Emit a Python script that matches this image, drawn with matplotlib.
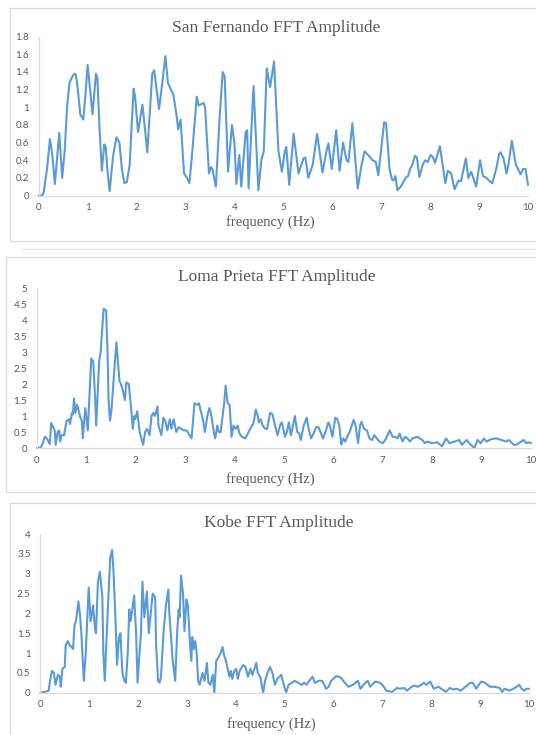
import matplotlib
matplotlib.use("Agg")
import matplotlib.pyplot as plt
from matplotlib.patches import Rectangle
from matplotlib.lines import Line2D

# ---------------- data ----------------
titles = ["San Fernando FFT Amplitude", "Loma Prieta FFT Amplitude", "Kobe FFT Amplitude"]
xlabel_text = "frequency (Hz)"
x_ticks = [0, 1, 2, 3, 4, 5, 6, 7, 8, 9, 10]

sf_ticks = [0, 0.2, 0.4, 0.6, 0.8, 1.0, 1.2, 1.4, 1.6, 1.8]
lp_ticks = [0, 0.5, 1, 1.5, 2, 2.5, 3, 3.5, 4, 4.5, 5]
kb_ticks = [0, 0.5, 1, 1.5, 2, 2.5, 3, 3.5, 4]

sf_points = [
    (0, 0), (0.07, 0), (0.1, 0.03), (0.17, 0.3), (0.23, 0.64), (0.28, 0.45), (0.33, 0.13),
    (0.38, 0.45), (0.42, 0.71), (0.45, 0.45), (0.48, 0.2), (0.53, 0.5), (0.58, 1.0),
    (0.63, 1.28), (0.70, 1.36), (0.73, 1.38), (0.76, 1.37), (0.80, 1.2), (0.85, 0.92),
    (0.91, 0.86), (0.95, 1.1), (1.0, 1.48), (1.05, 1.2), (1.10, 0.92), (1.17, 1.38),
    (1.20, 1.33), (1.24, 0.8), (1.29, 0.28), (1.34, 0.58), (1.37, 0.55), (1.41, 0.25),
    (1.45, 0.05), (1.52, 0.45), (1.59, 0.66), (1.65, 0.6), (1.70, 0.3), (1.75, 0.14),
    (1.80, 0.15), (1.86, 0.35), (1.90, 0.8), (1.94, 1.21), (1.97, 1.12), (2.03, 0.72),
    (2.12, 1.03), (2.22, 0.49), (2.32, 1.38), (2.36, 1.42), (2.46, 0.98), (2.52, 1.25),
    (2.59, 1.58), (2.64, 1.28), (2.70, 1.2), (2.75, 1.15), (2.82, 0.9), (2.85, 0.75),
    (2.90, 0.86), (2.97, 0.25), (3.03, 0.2), (3.08, 0.14), (3.14, 0.5), (3.23, 1.12),
    (3.27, 1.02), (3.37, 1.05), (3.40, 1.0), (3.48, 0.25), (3.52, 0.32), (3.55, 0.3),
    (3.62, 0.1), (3.70, 0.9), (3.76, 1.4), (3.80, 1.35), (3.87, 0.27), (3.95, 0.8),
    (4.00, 0.6), (4.04, 0.13), (4.10, 0.46), (4.14, 0.1), (4.23, 0.72), (4.26, 0.74),
    (4.29, 0.08), (4.39, 1.24), (4.49, 0.06), (4.55, 0.4), (4.60, 0.5), (4.66, 1.44),
    (4.73, 1.23), (4.81, 1.52), (4.90, 0.5), (4.97, 0.27), (5.03, 0.5), (5.06, 0.55),
    (5.12, 0.12), (5.21, 0.7), (5.31, 0.25), (5.41, 0.42), (5.45, 0.43), (5.51, 0.2),
    (5.60, 0.35), (5.69, 0.7), (5.80, 0.26), (5.88, 0.5), (5.92, 0.59), (5.99, 0.3),
    (6.08, 0.74), (6.15, 0.28), (6.22, 0.6), (6.29, 0.4), (6.33, 0.38), (6.41, 0.82),
    (6.52, 0.08), (6.60, 0.35), (6.66, 0.5), (6.75, 0.45), (6.82, 0.4), (6.89, 0.38),
    (6.94, 0.23), (7.06, 0.83), (7.10, 0.82), (7.17, 0.3), (7.22, 0.18), (7.25, 0.17),
    (7.29, 0.22), (7.33, 0.06), (7.40, 0.1), (7.43, 0.13), (7.50, 0.2), (7.55, 0.22),
    (7.59, 0.3), (7.63, 0.34), (7.69, 0.45), (7.73, 0.43), (7.78, 0.21), (7.85, 0.35),
    (7.90, 0.4), (7.95, 0.38), (8.01, 0.46), (8.06, 0.43), (8.10, 0.37), (8.20, 0.56),
    (8.31, 0.14), (8.36, 0.28), (8.43, 0.25), (8.50, 0.07), (8.58, 0.17), (8.63, 0.16),
    (8.73, 0.42), (8.78, 0.2), (8.84, 0.27), (8.94, 0.1), (9.02, 0.4), (9.08, 0.22),
    (9.15, 0.2), (9.20, 0.17), (9.27, 0.14), (9.35, 0.3), (9.41, 0.47), (9.44, 0.49),
    (9.50, 0.42), (9.56, 0.25), (9.60, 0.35), (9.67, 0.62), (9.72, 0.45), (9.75, 0.35),
    (9.85, 0.24), (9.90, 0.3), (9.95, 0.3), (10.0, 0.12),
]

lp_points = [
    (0, 0), (0.08, 0.02), (0.12, 0.15), (0.16, 0.35), (0.2, 0.3), (0.22, 0.25), (0.26, 0.12),
    (0.29, 0.78), (0.33, 0.65), (0.36, 0.55), (0.38, 0.1), (0.42, 0.5), (0.45, 0.55),
    (0.47, 0.2), (0.5, 0.4), (0.55, 0.4), (0.6, 0.85), (0.65, 0.9), (0.67, 0.75),
    (0.71, 1.1), (0.73, 1.05), (0.75, 1.55), (0.78, 1.1), (0.81, 1.35), (0.84, 1.2),
    (0.88, 0.95), (0.91, 0.85), (0.93, 0.3), (0.96, 0.9), (0.98, 1.25), (1.03, 0.55),
    (1.06, 1.5), (1.10, 2.8), (1.14, 2.7), (1.18, 1.5), (1.20, 0.7), (1.26, 2.7),
    (1.29, 3.0), (1.35, 4.35), (1.40, 4.3), (1.43, 3.0), (1.45, 1.5), (1.48, 0.85),
    (1.51, 1.2), (1.57, 2.5), (1.61, 3.3), (1.64, 2.7), (1.67, 2.1), (1.70, 2.0),
    (1.74, 1.8), (1.78, 1.5), (1.81, 2.05), (1.86, 2.0), (1.91, 1.2), (1.94, 0.6),
    (1.97, 1.0), (1.99, 0.9), (2.03, 1.15), (2.08, 0.5), (2.15, 0.1), (2.19, 0.5),
    (2.23, 0.6), (2.28, 0.4), (2.32, 1.0), (2.36, 1.1), (2.39, 1.0), (2.44, 1.3),
    (2.46, 0.7), (2.52, 0.4), (2.56, 0.95), (2.60, 0.85), (2.64, 0.55), (2.69, 0.9),
    (2.72, 0.6), (2.77, 0.9), (2.82, 0.5), (2.87, 0.65), (2.92, 0.6), (2.97, 0.55),
    (3.03, 0.55), (3.13, 0.3), (3.19, 1.4), (3.24, 1.35), (3.28, 1.4), (3.31, 1.2),
    (3.36, 0.9), (3.40, 0.5), (3.45, 1.0), (3.49, 1.25), (3.52, 1.1), (3.58, 0.5),
    (3.61, 0.3), (3.65, 0.7), (3.68, 0.5), (3.72, 0.5), (3.75, 0.9), (3.79, 1.4),
    (3.82, 1.95), (3.86, 1.4), (3.90, 1.35), (3.94, 0.35), (3.98, 0.7), (4.02, 0.6),
    (4.06, 0.7), (4.10, 0.45), (4.15, 0.35), (4.22, 0.3), (4.30, 0.55), (4.35, 0.7),
    (4.38, 0.75), (4.43, 1.2), (4.47, 1.0), (4.49, 0.8), (4.53, 0.9), (4.57, 0.7),
    (4.62, 0.6), (4.66, 0.6), (4.72, 1.1), (4.77, 1.05), (4.82, 0.7), (4.87, 0.4),
    (4.93, 0.75), (4.96, 0.8), (5.02, 0.35), (5.06, 0.5), (5.10, 0.8), (5.14, 0.4),
    (5.17, 0.6), (5.22, 1.0), (5.27, 0.5), (5.31, 0.45), (5.34, 0.25), (5.40, 0.7),
    (5.46, 0.95), (5.50, 0.6), (5.55, 0.3), (5.60, 0.45), (5.65, 0.65), (5.70, 0.65),
    (5.79, 0.3), (5.84, 0.5), (5.90, 0.8), (5.93, 0.7), (5.98, 0.35), (6.04, 0.95),
    (6.08, 0.9), (6.12, 0.7), (6.16, 0.1), (6.20, 0.3), (6.24, 0.2), (6.28, 0.35),
    (6.33, 0.5), (6.41, 0.88), (6.45, 0.7), (6.50, 0.15), (6.54, 0.7), (6.57, 0.82),
    (6.62, 0.6), (6.68, 0.55), (6.73, 0.3), (6.78, 0.25), (6.83, 0.4), (6.88, 0.3),
    (6.93, 0.2), (7.00, 0.15), (7.05, 0.25), (7.14, 0.55), (7.20, 0.35), (7.25, 0.35),
    (7.30, 0.3), (7.34, 0.45), (7.40, 0.2), (7.45, 0.35), (7.50, 0.3), (7.55, 0.2),
    (7.60, 0.3), (7.70, 0.35), (7.80, 0.25), (7.85, 0.15), (7.90, 0.2), (8.00, 0.15),
    (8.10, 0.18), (8.20, 0.05), (8.28, 0.3), (8.35, 0.15), (8.45, 0.2), (8.55, 0.25),
    (8.60, 0.1), (8.70, 0.25), (8.75, 0.15), (8.85, 0.0), (8.92, 0.25), (8.98, 0.15),
    (9.05, 0.3), (9.10, 0.2), (9.20, 0.28), (9.30, 0.3), (9.40, 0.25), (9.50, 0.2),
    (9.55, 0.25), (9.65, 0.1), (9.70, 0.1), (9.80, 0.2), (9.85, 0.25), (9.90, 0.15),
    (9.95, 0.18), (10.0, 0.15),
]

kb_points = [
    (0, 0), (0.1, 0.02), (0.17, 0.05), (0.2, 0.3), (0.24, 0.55), (0.28, 0.5), (0.31, 0.2),
    (0.36, 0.45), (0.4, 0.4), (0.42, 0.15), (0.45, 0.6), (0.5, 0.65), (0.52, 1.2),
    (0.56, 1.3), (0.6, 1.2), (0.64, 1.15), (0.67, 1.1), (0.7, 1.7), (0.73, 1.8),
    (0.78, 2.3), (0.81, 2.0), (0.84, 1.5), (0.89, 0.3), (0.93, 1.0), (0.99, 2.65),
    (1.03, 1.8), (1.08, 2.2), (1.12, 1.6), (1.14, 1.5), (1.18, 2.8), (1.22, 3.05),
    (1.27, 2.4), (1.29, 1.0), (1.32, 0.3), (1.36, 1.5), (1.43, 3.4), (1.47, 3.6),
    (1.50, 3.0), (1.54, 1.8), (1.57, 0.7), (1.61, 1.4), (1.64, 1.5), (1.68, 0.5),
    (1.72, 0.3), (1.75, 0.25), (1.79, 1.0), (1.82, 2.1), (1.85, 1.8), (1.92, 2.45),
    (1.96, 1.5), (1.99, 0.25), (2.03, 1.0), (2.06, 1.5), (2.09, 2.8), (2.13, 1.9),
    (2.18, 2.55), (2.22, 1.5), (2.30, 2.5), (2.35, 2.4), (2.37, 1.2), (2.41, 0.3),
    (2.44, 0.25), (2.47, 0.4), (2.52, 1.5), (2.57, 2.2), (2.62, 2.6), (2.64, 2.0),
    (2.71, 0.8), (2.76, 0.3), (2.80, 1.5), (2.83, 2.1), (2.85, 1.9), (2.88, 2.95),
    (2.92, 2.5), (2.95, 1.55), (2.99, 2.35), (3.02, 2.2), (3.06, 1.3), (3.09, 0.8),
    (3.11, 1.4), (3.14, 1.1), (3.17, 1.3), (3.20, 1.0), (3.23, 0.3), (3.26, 0.2),
    (3.32, 0.5), (3.36, 0.3), (3.41, 0.75), (3.44, 0.25), (3.48, 0.2), (3.53, 0.45),
    (3.56, 0.0), (3.60, 0.8), (3.65, 0.9), (3.69, 1.0), (3.73, 1.15), (3.76, 0.95),
    (3.80, 0.8), (3.87, 0.4), (3.90, 0.55), (3.93, 0.35), (3.97, 0.55), (4.01, 0.6),
    (4.04, 0.35), (4.08, 0.55), (4.15, 0.7), (4.20, 0.65), (4.25, 0.4), (4.30, 0.6),
    (4.34, 0.45), (4.42, 0.75), (4.45, 0.5), (4.50, 0.4), (4.53, 0.2), (4.56, 0.0),
    (4.60, 0.3), (4.65, 0.5), (4.70, 0.65), (4.75, 0.5), (4.80, 0.2), (4.85, 0.35),
    (4.93, 0.45), (4.96, 0.3), (5.03, 0.0), (5.08, 0.2), (5.15, 0.25), (5.20, 0.3),
    (5.28, 0.25), (5.35, 0.2), (5.40, 0.25), (5.45, 0.2), (5.50, 0.3), (5.57, 0.4),
    (5.62, 0.25), (5.70, 0.3), (5.77, 0.3), (5.85, 0.1), (5.90, 0.15), (5.95, 0.3),
    (6.06, 0.42), (6.15, 0.38), (6.20, 0.3), (6.30, 0.15), (6.40, 0.2), (6.50, 0.3),
    (6.55, 0.1), (6.65, 0.25), (6.70, 0.3), (6.75, 0.15), (6.85, 0.28), (6.95, 0.25),
    (7.00, 0.2), (7.08, 0.05), (7.20, 0.02), (7.30, 0.12), (7.35, 0.1), (7.45, 0.12),
    (7.50, 0.05), (7.60, 0.15), (7.65, 0.18), (7.72, 0.15), (7.80, 0.2), (7.85, 0.25),
    (7.90, 0.2), (7.98, 0.28), (8.05, 0.1), (8.15, 0.15), (8.20, 0.1), (8.30, 0.02),
    (8.38, 0.12), (8.45, 0.08), (8.52, 0.1), (8.60, 0.05), (8.70, 0.15), (8.80, 0.25),
    (8.85, 0.25), (8.92, 0.1), (9.02, 0.28), (9.10, 0.25), (9.20, 0.15), (9.30, 0.15),
    (9.40, 0.12), (9.45, 0.02), (9.50, 0.1), (9.60, 0.05), (9.65, 0.08), (9.75, 0.15),
    (9.80, 0.2), (9.85, 0.1), (9.90, 0.05), (9.95, 0.1), (10.0, 0.1),
]

# ---------------- styling / layout ----------------
W, H = 536, 735
LINE_COLOR = "#5B9BD5"
TEXT_COLOR = "#595959"
AXIS_COLOR = "#D9D9D9"
BORDER_COLOR = "#D9D9D9"

fig = plt.figure(figsize=(W / 100, H / 100), dpi=100)
fig.patch.set_facecolor("white")


def fmt(v):
    return ("%.1f" % v).rstrip("0").rstrip(".")


def px_rect(l, t, r, b):
    return [l / W, 1 - b / H, (r - l) / W, (b - t) / H]


# panel boxes (pixel coords: left, top, right, bottom)
boxes = [(10, 8, 545, 241), (6, 257, 545, 492), (10, 503, 545, 745)]
for (l, t, r, b) in boxes:
    fig.patches.append(Rectangle((l / W, 1 - b / H), (r - l) / W, (b - t) / H,
                                 transform=fig.transFigure, fill=False,
                                 edgecolor=BORDER_COLOR, linewidth=0.9))
fig.lines.append(Line2D([22 / W, 1.0], [1 - 249 / H, 1 - 249 / H],
                        transform=fig.transFigure, color="#E6E6E6", linewidth=0.9))

axes_px = [(38.7, 36.7, 528, 195.5), (36.9, 288, 531, 448), (40.3, 534, 529, 692.7)]
title_pos = [(276, 28), (277, 277), (279, 523)]
xlabel_pos = [(270, 222.5), (270, 479), (271, 724.5)]
series = [sf_points, lp_points, kb_points]
yticks_all = [sf_ticks, lp_ticks, kb_ticks]

for i in range(3):
    ax = fig.add_axes(px_rect(*axes_px[i]))
    pts = series[i]
    fx = [p[0] for p in pts]
    fy = [p[1] for p in pts]
    ax.plot(fx, fy, color=LINE_COLOR, linewidth=1.5, solid_joinstyle="round",
            solid_capstyle="round", clip_on=False)
    yt = yticks_all[i]
    ax.set_xlim(0, 10)
    ax.set_ylim(0, yt[-1])
    ax.set_xticks(x_ticks)
    ax.set_xticklabels([str(t) for t in x_ticks])
    ax.set_yticks(yt)
    ax.set_yticklabels([fmt(t) for t in yt])
    for s in ["top", "right"]:
        ax.spines[s].set_visible(False)
    for s in ["left", "bottom"]:
        ax.spines[s].set_color(AXIS_COLOR)
        ax.spines[s].set_linewidth(0.9)
    ax.tick_params(axis="both", length=0, labelsize=7, labelcolor=TEXT_COLOR)
    ax.tick_params(axis="x", pad=5.5)
    ax.tick_params(axis="y", pad=7)
    for lab in ax.get_xticklabels() + ax.get_yticklabels():
        lab.set_fontfamily("Lato")
    ax.patch.set_visible(False)

    tx, ty = title_pos[i]
    fig.text(tx / W, 1 - ty / H, titles[i], ha="center", va="center",
             fontsize=12.5, color=TEXT_COLOR, family="Liberation Serif")
    lx, ly = xlabel_pos[i]
    fig.text(lx / W, 1 - ly / H, xlabel_text, ha="center", va="center",
             fontsize=10.5, color=TEXT_COLOR, family="Liberation Serif")

fig.savefig("out.png", dpi=100, facecolor="white")
